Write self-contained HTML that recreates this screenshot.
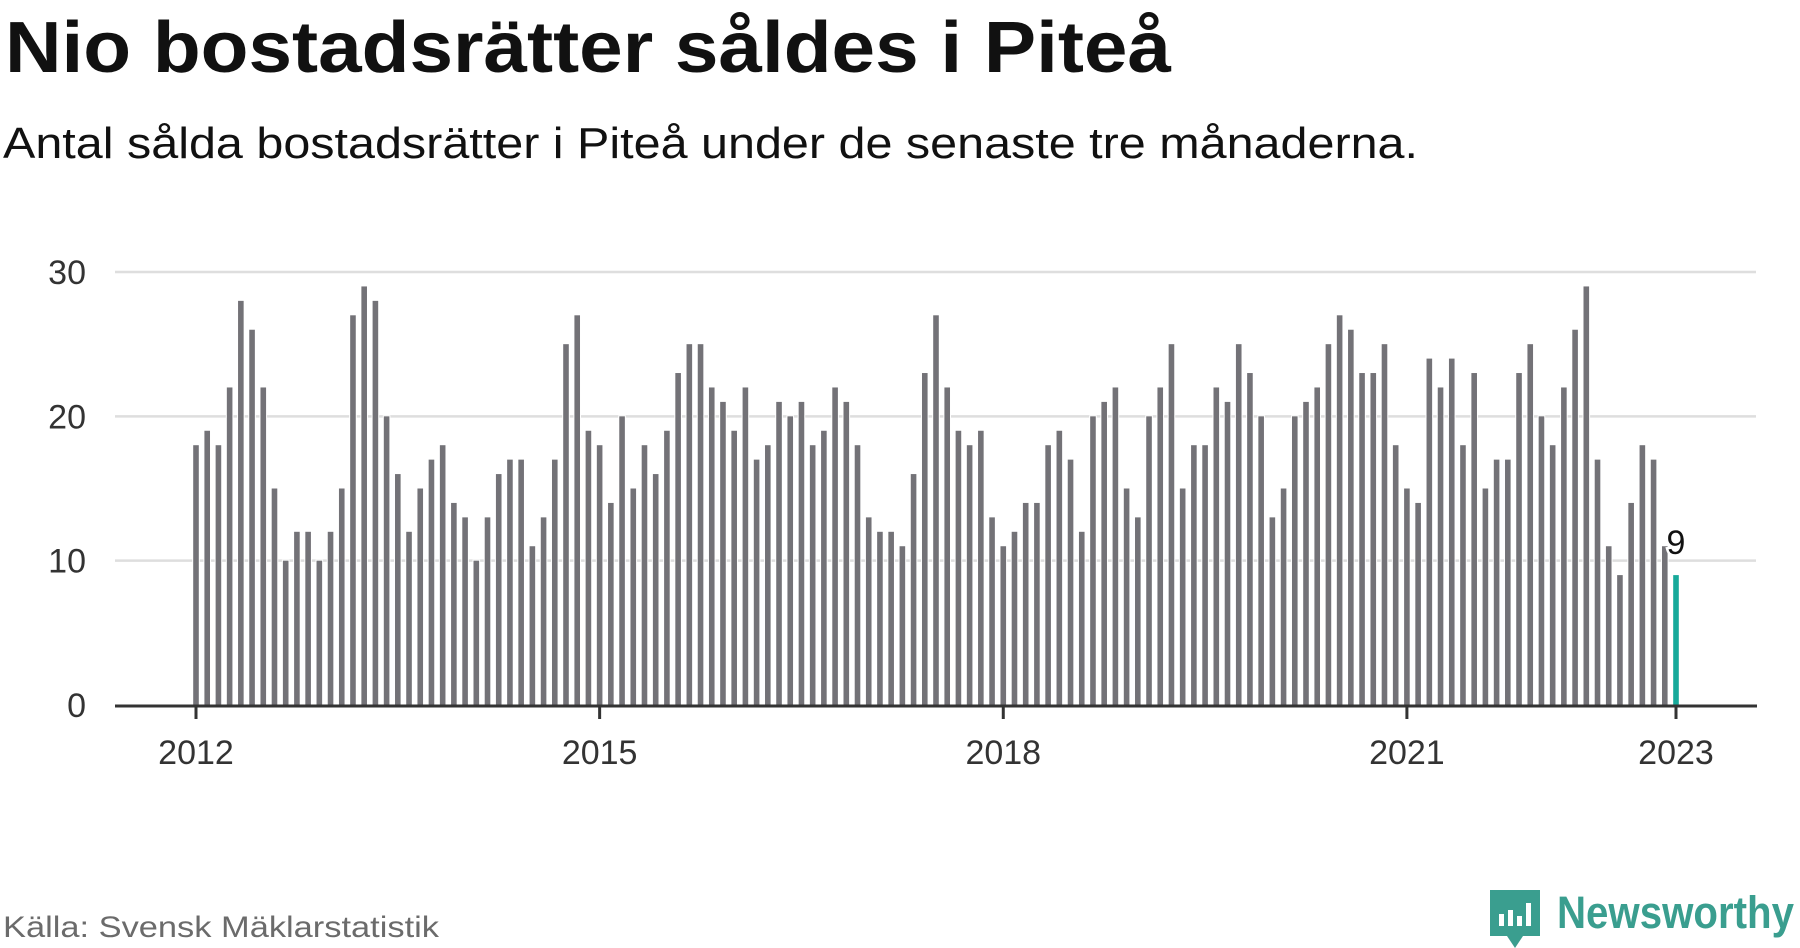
<!DOCTYPE html>
<html><head><meta charset="utf-8"><style>
html,body{margin:0;padding:0;background:#fff;}
svg{display:block;font-family:"Liberation Sans",sans-serif;}
</style></head><body>
<svg width="1800" height="948" viewBox="0 0 1800 948">
<text x="5" y="72" font-size="72" font-weight="bold" fill="#111" textLength="1166" lengthAdjust="spacingAndGlyphs">Nio bostadsrätter såldes i Piteå</text>
<text x="3" y="158" font-size="44" fill="#111" textLength="1415" lengthAdjust="spacingAndGlyphs">Antal sålda bostadsrätter i Piteå under de senaste tre månaderna.</text>
<g id="grid"></g>
<g id="bars"></g>
<g id="axis"></g>
<text x="3" y="937" font-size="30" fill="#6b6b6b" textLength="436" lengthAdjust="spacingAndGlyphs">Källa: Svensk Mäklarstatistik</text>
<g>
<path d="M1490 890 h50 v46 h-17 l-8 12 l-8 -12 h-17 z" fill="#3a9e8f"/>
<rect x="1499" y="914" width="5" height="12" fill="#fff"/><rect x="1508" y="910" width="5" height="16" fill="#fff"/><rect x="1517" y="916" width="5" height="10" fill="#fff"/><rect x="1526" y="903" width="5" height="23" fill="#fff"/>
<text x="1557" y="928" font-size="45" font-weight="bold" fill="#3a9e8f" textLength="237" lengthAdjust="spacingAndGlyphs">Newsworthy</text>
</g>
</svg>
<script>
const values = [18,19,18,22,28,26,22,15,10,12,12,10,
12,15,27,29,28,20,16,12,15,17,18,14,
13,10,13,16,17,17,11,13,17,25,27,19,
18,14,20,15,18,16,19,23,25,25,22,21,
19,22,17,18,21,20,21,18,19,22,21,18,
13,12,12,11,16,23,27,22,19,18,19,13,
11,12,14,14,18,19,17,12,20,21,22,15,
13,20,22,25,15,18,18,22,21,25,23,20,
13,15,20,21,22,25,27,26,23,23,25,18,
15,14,24,22,24,18,23,15,17,17,23,25,
20,18,22,26,29,17,11,9,14,18,17,11,
9];
const startYear = 2012;
const yTicks = [0,10,20,30];
const xTickYears = [2012,2015,2018,2021,2023];
const NS="http://www.w3.org/2000/svg";
const x0=196, step=(1676-196)/132, yBase=705, yTop=272;
const xOf = i => x0 + i*step;
const yOf = v => yBase - (v/30)*(yBase-yTop);
function mk(t,a,p){const e=document.createElementNS(NS,t);for(const k in a)e.setAttribute(k,a[k]);p.appendChild(e);return e;}
const grid=document.getElementById('grid'), bars=document.getElementById('bars'), axis=document.getElementById('axis');
yTicks.forEach(v=>{
  if(v>0){const l=mk('line',{x1:115,x2:1756,y1:yOf(v),y2:yOf(v),stroke:'#dedede','stroke-width':2.5},grid);
  
  }
  const t=mk('text',{x:86,y:yOf(v)+12,'text-anchor':'end','font-size':34,fill:'#333'},grid);
  
  
  t.textContent=v;
});
values.forEach((v,i)=>{
  const last=i===values.length-1;
  const r=mk('rect',{x:xOf(i)-2.8,y:yOf(v),width:5.6,height:yBase-yOf(v),fill:last?'#17a99a':'#737277',stroke:'#fff','stroke-width':2,'paint-order':'stroke'},bars);
  
  
});
const li=values.length-1;
const lab=mk('text',{x:xOf(li),y:yOf(values[li])-21,'text-anchor':'middle','font-size':34,fill:'#111',stroke:'#fff','stroke-width':5,'paint-order':'stroke'},bars);


lab.textContent=values[li];
const bl=mk('line',{x1:115,x2:1757,y1:yBase+1,y2:yBase+1,stroke:'#333','stroke-width':3},axis);


xTickYears.forEach(y=>{
  const i=(y-startYear)*12;
  const tk=mk('line',{x1:xOf(i),x2:xOf(i),y1:yBase,y2:yBase+14,stroke:'#333','stroke-width':3},axis);
  
  
  const t=mk('text',{x:xOf(i),y:764,'text-anchor':'middle','font-size':34,fill:'#333'},axis);
  
  
  t.textContent=y;
});
</script>
</body></html>
